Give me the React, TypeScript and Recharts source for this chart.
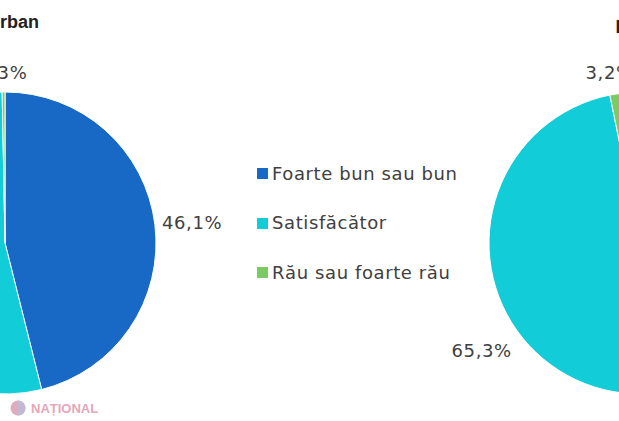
import React from 'react';
import { PieChart, Pie, Cell, Legend } from 'recharts';

const categories = ['Foarte bun sau bun', 'Satisfăcător', 'Rău sau foarte rău'];
const urbanValues = [46.1, 53.6, 0.3];
const ruralValues = [31.5, 65.3, 3.2];
const titles = ['Urban', 'Rural'];
const colors = ['#1868C5', '#12CCD8', '#7ACB62'];

const W = 619;
const H = 421;
const R = 151;
const CY = 243;
const LEFT_CX = 5;
const RIGHT_CX = 640;
const LABEL_GAP = 10;
const TEXT = '#404040';
const FONT = '"DejaVu Sans", sans-serif';
const FS = 18;
const LS = 0.6;

const urbanData = categories.map((name, i) => ({ name, value: urbanValues[i] }));
const ruralData = categories.map((name, i) => ({ name, value: ruralValues[i] }));

const fmt = (v: number) => v.toFixed(1).replace('.', ',') + '%';

const makeLabel = (shiftX: number) => (props: any) => {
  const { cx, cy, midAngle, outerRadius, value } = props;
  const RAD = Math.PI / 180;
  const ux = Math.cos(-midAngle * RAD);
  const uy = Math.sin(-midAngle * RAD);
  const r = outerRadius + LABEL_GAP;
  const px = cx + r * ux;
  const py = cy + r * uy;
  const text = fmt(value);
  const w = text.length * 11;
  const h = 20;
  const tx = px + (w / 2) * ux + shiftX;
  const ty = py + (h / 2) * uy;
  return (
    <text
      x={tx}
      y={ty}
      textAnchor="middle"
      dominantBaseline="central"
      fill={TEXT}
      fontFamily={FONT}
      fontSize={FS}
      letterSpacing={LS}
    >
      {text}
    </text>
  );
};

const LegendContent = () => (
  <div style={{ fontFamily: FONT, fontSize: FS, color: TEXT, letterSpacing: LS }}>
    {categories.map((c, i) => (
      <div key={c} style={{ display: 'flex', alignItems: 'center', height: 49.5 }}>
        <span
          style={{
            display: 'inline-block',
            width: 11,
            height: 11,
            background: colors[i],
            marginRight: 4,
          }}
        />
        <span style={{ lineHeight: '20px' }}>{c}</span>
      </div>
    ))}
  </div>
);

export default function App() {
  return (
    <div style={{ position: 'fixed', left: 0, top: 0, width: W, height: H, background: '#fff', overflow: 'hidden' }}>
      <PieChart width={W} height={H} margin={{ top: 0, right: 0, bottom: 0, left: 0 }}>
        <Pie
          data={urbanData}
          dataKey="value"
          nameKey="name"
          cx={LEFT_CX}
          cy={CY}
          outerRadius={R}
          startAngle={90}
          endAngle={-270}
          label={makeLabel(0)}
          labelLine={false}
          stroke="#fff"
          strokeWidth={1}
          isAnimationActive={false}
        >
          {urbanData.map((d, i) => (
            <Cell key={d.name} fill={colors[i]} />
          ))}
        </Pie>
        <Pie
          data={ruralData}
          dataKey="value"
          nameKey="name"
          cx={RIGHT_CX}
          cy={CY}
          outerRadius={R}
          startAngle={90}
          endAngle={-270}
          label={makeLabel(-12)}
          labelLine={false}
          stroke="#fff"
          strokeWidth={1}
          isAnimationActive={false}
        >
          {ruralData.map((d, i) => (
            <Cell key={d.name} fill={colors[i]} />
          ))}
        </Pie>
        <Legend
          content={<LegendContent />}
          wrapperStyle={{ position: 'absolute', left: 257, top: 149, width: 240 }}
        />
      </PieChart>
      <svg
        width={W}
        height={H}
        style={{ position: 'absolute', left: 0, top: 0, pointerEvents: 'none' }}
      >
        <text x={-13} y={28} fontFamily='"Liberation Sans", Arial, sans-serif' fontWeight="bold" fontSize={18} fill="#222">
          {titles[0]}
        </text>
        <text x={615.5} y={33} fontFamily='"Liberation Sans", Arial, sans-serif' fontWeight="bold" fontSize={18} fill="#222">
          {titles[1]}
        </text>
        <g opacity={0.55}>
          <circle cx={18} cy={408} r={7.5} fill="#c46a8a" />
          <path d="M18 400.5 A7.5 7.5 0 0 1 18 415.5 Z" fill="#8f7fb0" />
          <text x={31} y={413} fontFamily='"Liberation Sans", Arial, sans-serif' fontWeight="bold" fontSize={13} fill="#d0607f">
            NAȚIONAL
          </text>
        </g>
      </svg>
    </div>
  );
}
